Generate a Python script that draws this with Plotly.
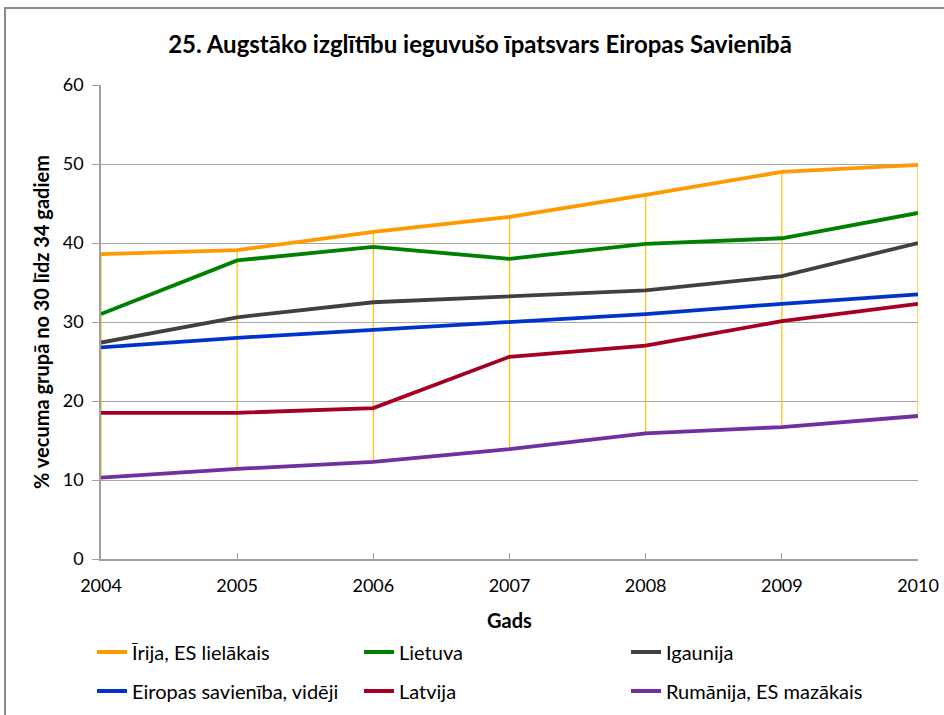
import plotly.graph_objects as go

years = [2004, 2005, 2006, 2007, 2008, 2009, 2010]

series_names = [
    "Īrija, ES lielākais",
    "Lietuva",
    "Igaunija",
    "Eiropas savienība, vidēji",
    "Latvija",
    "Rumānija, ES mazākais",
]
ireland = [38.6, 39.1, 41.4, 43.3, 46.1, 49.0, 49.9]
lithuania = [31.0, 37.8, 39.5, 38.0, 39.9, 40.6, 43.8]
estonia = [27.4, 30.6, 32.5, 33.3, 34.0, 35.8, 40.0]
eu_avg = [26.8, 28.0, 29.0, 30.0, 31.0, 32.3, 33.5]
latvia = [18.5, 18.5, 19.1, 25.6, 27.0, 30.1, 32.3]
romania = [10.3, 11.4, 12.3, 13.9, 15.9, 16.7, 18.1]

values = [ireland, lithuania, estonia, eu_avg, latvia, romania]
colors = ["#FF9900", "#008000", "#404040", "#0033CC", "#A50021", "#7030A0"]
legends = ["legend", "legend", "legend", "legend2", "legend2", "legend2"]

title_text = "25. Augstāko izglītību ieguvušo īpatsvars Eiropas Savienībā"
x_title = "Gads"
y_title = "% vecuma grupā no 30 līdz 34 gadiem"

FONT = "Lato"
W, H = 944, 715
ML, MR, MT, MB = 101, 26, 85, 156
pw = W - ML - MR
ph = H - MT - MB

fig = go.Figure()

# high-low lines (max to min of all series per year)
hx, hy = [], []
for i, yr in enumerate(years):
    col = [v[i] for v in values]
    hx += [yr, yr, None]
    hy += [max(col), min(col), None]
fig.add_trace(go.Scatter(x=hx, y=hy, mode="lines",
                         line=dict(color="#FFC000", width=1.2),
                         showlegend=False, hoverinfo="skip"))

for name, vals, c, lg in zip(series_names, values, colors, legends):
    fig.add_trace(go.Scatter(x=years, y=vals, mode="lines", name=name,
                             line=dict(color=c, width=3.8), legend=lg))

leg_common = dict(orientation="h", xref="container", yref="container",
                  xanchor="left", yanchor="middle",
                  entrywidth=222, entrywidthmode="pixels",
                  font=dict(size=20, family=FONT, color="#000000"),
                  bgcolor="rgba(0,0,0,0)")

fig.update_layout(
    width=W, height=H,
    margin=dict(l=ML, r=MR, t=MT, b=MB),
    paper_bgcolor="white", plot_bgcolor="white",
    font=dict(family=FONT, size=18, color="#000000"),
    title=dict(text="<b>" + title_text + "</b>", xref="container", yref="container",
               x=480 / W, y=1 - 45 / H, xanchor="center", yanchor="middle",
               font=dict(family=FONT, size=24, color="#000000")),
    xaxis=dict(range=[2004, 2010], tickvals=years, ticktext=[str(y) for y in years],
               showgrid=False, zeroline=False, showline=True, linecolor="#A0A0A0",
               linewidth=1.5, ticks="inside", ticklen=6, tickcolor="#A0A0A0",
               tickfont=dict(size=18, family=FONT), automargin=False,
               ticklabelstandoff=10,
               title=dict(text="<b>" + x_title + "</b>", standoff=20,
                          font=dict(size=20, family=FONT))),
    yaxis=dict(range=[0, 60], dtick=10, showgrid=True, gridcolor="#A6A6A6",
               gridwidth=1.2, zeroline=False, showline=True, linecolor="#A0A0A0",
               linewidth=1.5, ticks="outside", ticklen=7, tickcolor="#A0A0A0",
               tickfont=dict(size=18, family=FONT), automargin=False,
               ticklabelstandoff=5,
               title=dict(text="<b>" + y_title + "</b>", standoff=8,
                          font=dict(size=20, family=FONT))),
    legend=dict(x=92 / W, y=1 - 652 / H, **leg_common),
    legend2=dict(x=92 / W, y=1 - 691 / H, **leg_common),
    shapes=[dict(type="rect", xref="paper", yref="paper",
                 x0=(5 - ML) / pw, x1=1 + (MR + 20) / pw,
                 y0=-(MB + 20) / ph, y1=1 + (MT - 8) / ph,
                 line=dict(color="#8C8C8C", width=2), layer="below")],
)

fig.write_html("out.html", config={"displayModeBar": False},
               post_script="document.body.style.margin='0';")
